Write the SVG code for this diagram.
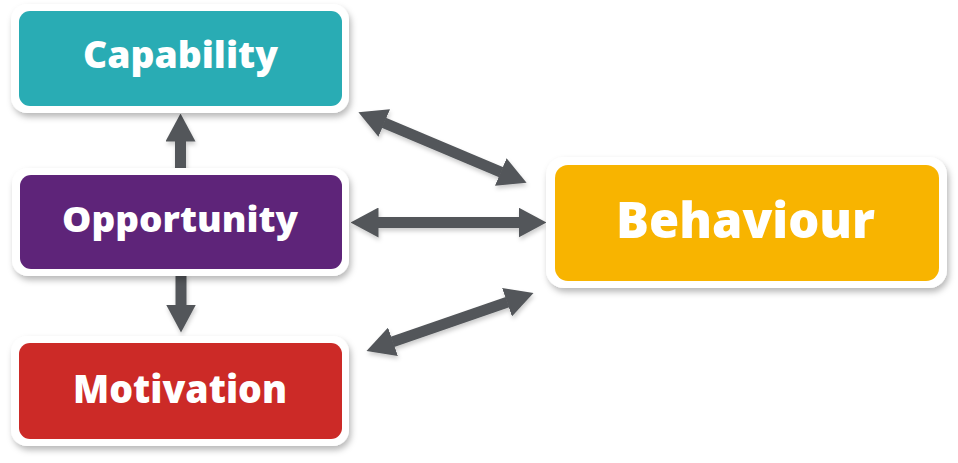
<svg xmlns="http://www.w3.org/2000/svg" width="958" height="463" viewBox="0 0 958 463">
  <defs>
    <filter id="sh" x="-10%" y="-20%" width="125%" height="150%">
      <feDropShadow dx="2" dy="4" stdDeviation="3" flood-color="#000" flood-opacity="0.28"/>
    </filter>
    <filter id="ash" x="-20%" y="-30%" width="140%" height="160%">
      <feDropShadow dx="1" dy="3" stdDeviation="2" flood-color="#000" flood-opacity="0.2"/>
    </filter>
    <marker id="ah" markerUnits="userSpaceOnUse" viewBox="0 0 28 30" refX="0.5" refY="15" markerWidth="28" markerHeight="30" orient="auto-start-reverse">
      <path d="M0,0 L28,15 L0,30 z" fill="#53565A"/>
    </marker>
    <style>
      .outer { fill: #ffffff; filter: url(#sh); }
      .lbl { font-family: "Open Sans", "Noto Sans", "Liberation Sans", sans-serif; font-weight: 800; fill: #ffffff; text-anchor: middle; }
      .con line { stroke: #53565A; stroke-width: 11; }
    </style>
  </defs>

  <g id="connectors" class="con" filter="url(#ash)">
    <line x1="180.5" y1="170" x2="180.5" y2="141" marker-end="url(#ah)"/>
    <line x1="181" y1="274" x2="181" y2="305" marker-end="url(#ah)"/>
    <line x1="378" y1="222.5" x2="519" y2="222.5" marker-start="url(#ah)" marker-end="url(#ah)"/>
    <line x1="383.8" y1="122.8" x2="501.2" y2="172.2" marker-start="url(#ah)" marker-end="url(#ah)"/>
    <line x1="392.5" y1="341.9" x2="507.5" y2="302.1" marker-start="url(#ah)" marker-end="url(#ah)"/>
  </g>

  <g id="capability">
    <rect class="outer" x="11" y="4" width="338" height="109" rx="16"/>
    <rect x="19" y="11" width="323" height="95" rx="11" fill="#29ACB4"/>
    <text class="lbl" x="180.5" y="68" font-size="37" textLength="195" lengthAdjust="spacingAndGlyphs">Capability</text>
  </g>

  <g id="opportunity">
    <rect class="outer" x="12" y="168" width="337" height="108" rx="16"/>
    <rect x="20" y="175" width="322" height="94" rx="11" fill="#5E2479"/>
    <text class="lbl" x="180" y="232" font-size="36" textLength="236" lengthAdjust="spacingAndGlyphs">Opportunity</text>
  </g>

  <g id="motivation">
    <rect class="outer" x="11" y="336" width="338" height="110" rx="16"/>
    <rect x="19" y="343" width="323" height="96" rx="11" fill="#CC2A27"/>
    <text class="lbl" x="180" y="403" font-size="38" textLength="214" lengthAdjust="spacingAndGlyphs">Motivation</text>
  </g>

  <g id="behaviour">
    <rect class="outer" x="546" y="157" width="401" height="131" rx="18"/>
    <rect x="555" y="165" width="384" height="116" rx="13" fill="#F8B400"/>
    <text class="lbl" x="745.5" y="238" font-size="50" textLength="259" lengthAdjust="spacingAndGlyphs">Behaviour</text>
  </g>
</svg>
